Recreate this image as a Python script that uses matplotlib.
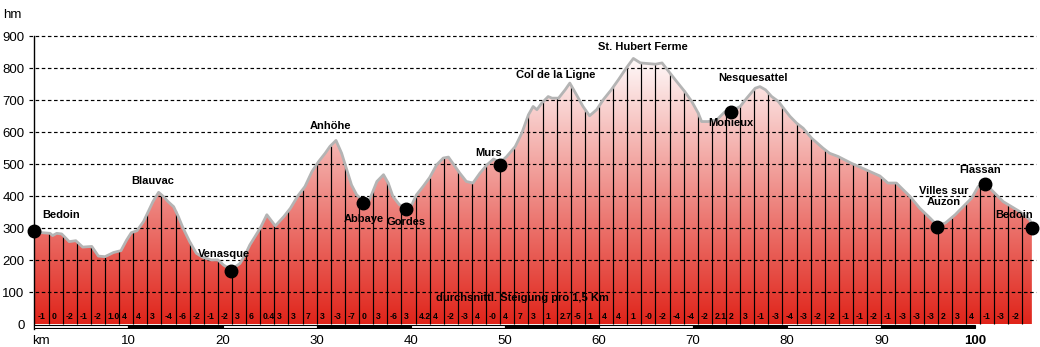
import numpy as np
import matplotlib
matplotlib.use("Agg")
import matplotlib.pyplot as plt
from matplotlib.patches import Rectangle, Polygon

plt.rcParams['font.family'] = ['Liberation Sans', 'DejaVu Sans']

# ---- data ----
km = [0, 0.8, 1.66, 1.94, 2.37, 2.9, 3.7, 4.4, 5.13, 6.1,
      6.8, 7.5, 8.4, 9.2, 9.8, 10.3, 10.9, 11.6, 12.1, 12.6,
      13.2, 13.7, 14.2, 14.8, 15.3, 15.8, 16.5, 17.2, 17.9, 18.8,
      19.5, 20.1, 20.9, 21.85, 22.4, 22.9, 24.0, 24.7, 25.6, 26.5,
      27.2, 28.0, 28.75, 29.5, 30.2, 30.9, 31.4, 32.05, 32.65, 33.2,
      33.7, 34.25, 34.95, 35.6, 36.4, 37.1, 37.6, 38.1, 38.8, 39.5,
      40.1, 40.6, 41.3, 42.0, 42.75, 43.45, 44.0, 44.7, 45.2, 45.9,
      46.6, 47.35, 48.1, 48.8, 49.5, 50.2, 51.1, 51.8, 52.5, 53.0,
      53.4, 53.9, 54.6, 55.0, 55.7, 56.4, 56.9, 57.6, 58.3, 59.0,
      59.75, 60.45, 61.3, 62.05, 62.9, 63.65, 64.4, 66.0, 66.7, 67.55,
      68.25, 69.1, 69.85, 70.55, 70.9, 71.6, 72.5, 73.4, 74.0, 75.0,
      75.7, 76.6, 77.1, 77.7, 78.35, 79.05, 79.6, 80.3, 81.0, 81.7,
      82.6, 83.8, 84.5, 85.4, 86.8, 88.4, 89.85, 90.7, 91.6, 93.05,
      94.1, 95.2, 95.9, 96.8, 97.85, 98.9, 99.6, 100.3, 101.0, 101.9,
      102.95, 103.85, 104.7, 105.8, 106.0]
elev = [290, 286, 284, 277, 284, 282, 258, 261, 241, 243,
        213, 211, 224, 230, 263, 286, 292, 321, 352, 383,
        412, 399, 383, 367, 336, 300, 258, 222, 209, 201,
        201, 185, 170, 190, 217, 248, 300, 342, 307, 336,
        362, 401, 430, 477, 508, 534, 555, 574, 534, 482,
        435, 404, 385, 388, 446, 467, 441, 399, 373, 365,
        373, 404, 430, 458, 498, 519, 522, 493, 472, 446,
        441, 472, 498, 516, 505, 524, 555, 597, 654, 680,
        670, 690, 711, 706, 706, 732, 753, 717, 680, 651,
        670, 701, 732, 763, 800, 830, 816, 812, 816, 784,
        758, 727, 696, 659, 633, 633, 638, 664, 665, 680,
        706, 737, 742, 732, 711, 696, 675, 649, 628, 612,
        581, 550, 534, 524, 503, 482, 463, 441, 441, 399,
        362, 331, 310, 316, 342, 373, 394, 430, 440, 414,
        383, 367, 352, 326, 300]

gradients = ["-1", "0", "-2", "-1", "-2", "1.0", "4", "4", "3", "-4",
             "-6", "-2", "-1", "-2", "3", "6", "0.4", "3", "3", "7",
             "3", "-3", "-7", "0", "3", "-6", "3", "4.2", "4", "-2",
             "-3", "4", "-0", "4", "7", "3", "1", "2.7", "-5", "1",
             "4", "4", "1", "-0", "-2", "-4", "-4", "-2", "2.1", "2",
             "3", "-1", "-3", "-4", "-3", "-2", "-2", "-1", "-1", "-2",
             "-1", "-3", "-3", "-3", "2", "3", "4", "-1", "-3", "-2"]
segment_km = 1.5

place_names = ["Bedoin", "Venasque", "Abbaye", "Gordes", "Murs", "Monieux",
               "Villes sur\nAuzon", "Flassan", "Bedoin"]
place_km = [0.0, 20.9, 34.95, 39.5, 49.5, 74.0, 95.9, 101.0, 106.0]
place_elev = [290, 167, 378, 359, 498, 662, 305, 438, 302]

label_texts = ["Bedoin", "Blauvac", "Venasque", "Anhöhe", "Abbaye", "Gordes", "Murs",
               "Col de la Ligne", "St. Hubert Ferme", "Nesquesattel", "Monieux",
               "Villes sur\nAuzon", "Flassan", "Bedoin"]
label_km = [0.8, 12.55, 20.2, 31.5, 35.0, 39.5, 48.3, 55.4, 64.7, 76.4, 74.0, 96.6, 100.5, 104.1]
label_elev = [341, 448, 219, 620, 329, 319, 535, 779, 866, 770, 629, 399, 482, 341]
label_ha = ["left"] + ["center"] * 13

y_ticks = [0, 100, 200, 300, 400, 500, 600, 700, 800, 900]
x_ticks = [0, 10, 20, 30, 40, 50, 60, 70, 80, 90, 100]
x_ticklabels = ["km", "10", "20", "30", "40", "50", "60", "70", "80", "90", "100"]

XMAX = 106.44
YMIN, YMAX = -16, 900

# ---- figure ----
fig = plt.figure(figsize=(10.4, 3.47), dpi=100)
ax = fig.add_axes([34.4 / 1040, 0.0507, 1001.6 / 1040, 0.8455])
ax.set_xlim(0, XMAX)
ax.set_ylim(YMIN, YMAX)

# gradient fill clipped to profile
H = 400
yy = np.linspace(0, 900, H)
t = np.clip(yy / 850.0, 0, 1)[:, None]
bottom = np.array([224, 36, 26]) / 255.0
top = np.array([255, 255, 255]) / 255.0
img = bottom[None, None, :] * (1 - t[:, :, None]) + top[None, None, :] * t[:, :, None]
img = np.repeat(img, 2, axis=1)
im = ax.imshow(img, extent=[0, XMAX, 0, 900], origin='lower', aspect='auto',
               interpolation='bilinear', zorder=1)
poly_xy = [(km[0], 0)] + list(zip(km, elev)) + [(km[-1], 0)]
poly = Polygon(poly_xy, closed=True, facecolor='none', edgecolor='none')
ax.add_patch(poly)
im.set_clip_path(poly)

# grid lines
for yv in y_ticks[1:]:
    ax.plot([-0.55, XMAX], [yv, yv], color='black', lw=0.85,
            dashes=(3, 2.2), zorder=3, clip_on=False)

# vertical segment lines
nodes = np.arange(segment_km, km[-1], segment_km)
node_elev = np.interp(nodes, km, elev)
ax.vlines(nodes, 0, node_elev, color='black', lw=0.85, zorder=4)

# profile line
ax.plot(km, elev, color='#b4b4b4', lw=2.0, zorder=5, solid_joinstyle='round')

# gradient labels
for i, g in enumerate(gradients):
    ax.text(i * segment_km + 0.3, 24, g, fontsize=6.2, fontweight='bold',
            ha='left', va='center', zorder=6)

ax.text(51.9, 82, "durchsnittl. Steigung pro 1,5 Km", fontsize=8, fontweight='bold',
        ha='center', va='center', zorder=6)

# place dots
ax.plot(place_km, place_elev, 'o', color='black', ms=9, zorder=7, clip_on=False)

# labels
for txt, xk, ye, ha in zip(label_texts, label_km, label_elev, label_ha):
    ax.text(xk, ye, txt, fontsize=8, fontweight='bold', ha=ha, va='center',
            zorder=8, linespacing=1.05)

# distance bar
edges = list(range(0, 110, 10))
for i in range(len(edges) - 1):
    x0 = edges[i]
    x1 = min(edges[i + 1], XMAX)
    fc = 'white' if i % 2 == 0 else 'black'
    ax.add_patch(Rectangle((x0, -13), x1 - x0, 12, facecolor=fc,
                           edgecolor='black', lw=0.8, zorder=6))

# axes styling
for s in ['top', 'right', 'bottom']:
    ax.spines[s].set_visible(False)
ax.spines['left'].set_color('black')
ax.spines['left'].set_linewidth(1.0)
ax.set_yticks(y_ticks)
ax.set_yticklabels([str(v) for v in y_ticks], fontsize=9.5)
ax.tick_params(axis='y', length=0, pad=7)
ax.set_xticks([])
for xv, lab in zip(x_ticks, x_ticklabels):
    if lab == "km":
        ax.text(-0.2, -52, lab, fontsize=9.5, ha='left', va='center')
    else:
        ax.text(xv, -52, lab, fontsize=9.5, ha='center', va='center',
                fontweight='bold' if lab == "100" else 'normal')
fig.text(3 / 1040, 1 - 15 / 347, "hm", fontsize=9.5, ha='left', va='center')

fig.savefig("out.png", dpi=100)
